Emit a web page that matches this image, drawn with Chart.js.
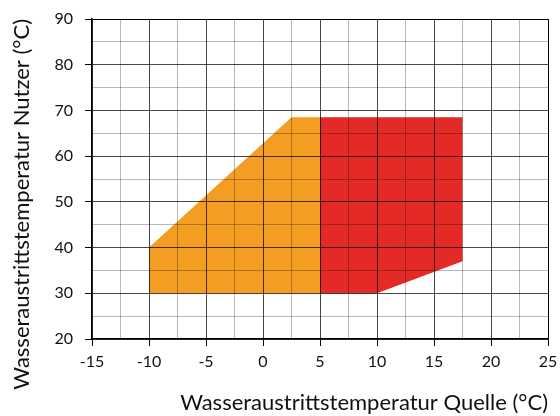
<!DOCTYPE html>
<html><head><meta charset="utf-8">
<script src="https://cdn.jsdelivr.net/npm/chart.js@4"></script>
<style>html,body{margin:0;padding:0;background:#fff}#wrap{width:560px;height:416px}</style>
</head><body><div id="wrap"><canvas id="c" width="560" height="416"></canvas></div>
<script>
const xTicksMajor = [-15,-10,-5,0,5,10,15,20,25];
const yTicksMajor = [20,30,40,50,60,70,80,90];
const orangeX = [-10, -10, 2.5, 5, 5];
const orangeY = [30, 40, 68.5, 68.5, 30];
const redX = [5, 5, 17.5, 17.5, 10];
const redY = [30, 68.5, 68.5, 37, 30];
const xTitle = 'Wasseraustrittstemperatur Quelle (°C)';
const yTitle = 'Wasseraustrittstemperatur Nutzer (°C)';

const pts = (xs, ys) => xs.map((x, i) => ({x: x, y: ys[i]}));
const FONT = 'Lato, "Noto Sans", sans-serif';

function gridColor(v, maxV, majorStep){
  if (v === maxV) return '#000';
  if (Math.abs(v % majorStep) < 1e-9) return 'rgba(0,0,0,0.72)';
  return 'rgba(0,0,0,0.28)';
}

new Chart(document.getElementById('c'), {
  type: 'scatter',
  data: {
    datasets: [
      {data: pts(orangeX, orangeY), showLine: true, fill: 'shape', backgroundColor: 'rgb(243,158,35)', borderWidth: 0, pointRadius: 0, tension: 0},
      {data: pts(redX, redY), showLine: true, fill: 'shape', backgroundColor: 'rgb(227,42,38)', borderWidth: 0, pointRadius: 0, tension: 0}
    ]
  },
  options: {
    responsive: false, animation: false, devicePixelRatio: 1,
    layout: {padding: {left: 0, right: 12, top: 19, bottom: 0}},
    plugins: {legend: {display: false}, tooltip: {enabled: false}},
    scales: {
      x: {
        type: 'linear', min: xTicksMajor[0], max: xTicksMajor[xTicksMajor.length-1],
        afterFit: s => { s.height = 77; s.paddingLeft = 0; s.paddingRight = 0; },
        border: {color: '#000', width: 1.5, z: 2},
        grid: {
          z: 1,
          color: c => gridColor(c.tick.value, 25, 5),
          tickColor: c => (Math.abs(c.tick.value % 5) < 1e-9 ? '#000' : 'rgba(0,0,0,0)'),
          tickLength: 7, lineWidth: 1
        },
        ticks: {stepSize: 2.5, autoSkip: false, maxRotation: 0, color: '#111', padding: 6,
          font: {family: FONT, size: 16},
          callback: v => (xTicksMajor.includes(v) ? String(v) : '')},
        title: {display: true, text: xTitle, align: 'end', color: '#111', font: {family: FONT, size: 22}, padding: {top: 4, bottom: 0}}
      },
      y: {
        type: 'linear', min: yTicksMajor[0], max: yTicksMajor[yTicksMajor.length-1],
        afterFit: s => { s.width = 92; s.paddingTop = 0; s.paddingBottom = 0; },
        border: {color: '#000', width: 1.5, z: 2},
        grid: {
          z: 1,
          color: c => gridColor(c.tick.value, 90, 10),
          tickColor: c => (Math.abs(c.tick.value % 10) < 1e-9 ? '#000' : 'rgba(0,0,0,0)'),
          tickLength: 7, lineWidth: 1
        },
        ticks: {stepSize: 5, autoSkip: false, color: '#111', padding: 12,
          font: {family: FONT, size: 16},
          callback: v => (yTicksMajor.includes(v) ? String(v) : '')},
        title: {display: true, text: yTitle, align: 'end', color: '#111', font: {family: FONT, size: 22}, padding: {top: 9, bottom: 0}}
      }
    }
  }
});
</script></body></html>
